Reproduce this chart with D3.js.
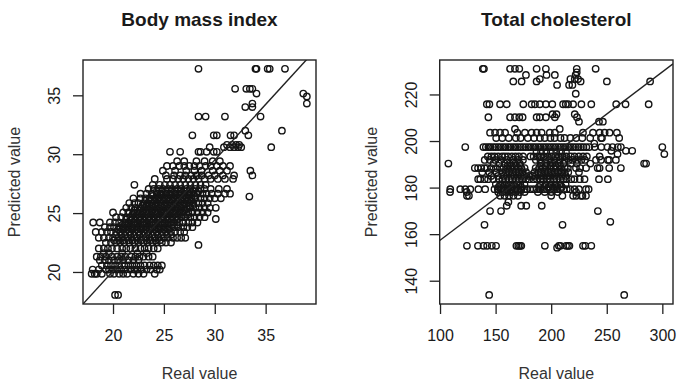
<!DOCTYPE html>
<html>
<head>
<meta charset="utf-8">
<title>Predicted vs real value</title>
<script src="https://d3js.org/d3.v7.min.js"></script>
<style>
  body { margin: 0; background: #fff; }
  svg text { font-family: "Liberation Sans", Arial, Helvetica, sans-serif; fill: #1a1a1a; }
  .box { fill: none; stroke: #222; stroke-width: 1.4px; }
  .pt { fill: none; stroke: #151515; stroke-width: 1.4px; }
  .fit { stroke: #222; stroke-width: 1.4px; }
  .tick line { stroke: #222; stroke-width: 1.3px; }
</style>
</head>
<body>
<svg id="chart" width="686" height="388"></svg>
<script>
// ---- data: [predicted value, [real values at that prediction]] ----
var bmiRows = [
  [18.05, [20.2, 20.5]],
  [19.85, [17.9, 18.2, 18.4, 18.9, 19.7, 20.1, 20.6, 21.0, 21.4, 22.0, 22.5, 23.0, 24.1]],
  [20.2, [18.0, 18.6, 19.3, 19.6, 20.0, 20.4, 20.8, 21.2, 21.7, 22.1, 22.4, 22.8, 23.3, 23.7, 24.3, 24.6]],
  [20.55, [18.9, 19.4, 19.8, 20.2, 20.6, 21.1, 21.5, 21.9, 22.3, 22.7, 23.1, 23.6, 24.0, 24.4, 24.8]],
  [21.0, [18.7, 19.2, 19.6, 20.1, 20.5, 21.0, 21.5, 22.0, 22.5]],
  [21.3, [18.4, 18.8, 19.3, 19.9, 20.4, 20.8, 21.2, 21.8, 22.2, 22.6, 23.0, 23.5, 23.9]],
  [21.6, [19.1, 19.6, 20.9, 22.4, 23.3]],
  [22.0, [18.6, 19.1, 19.5, 19.9, 20.4, 20.9, 21.3, 21.7, 22.2, 22.7, 23.1, 23.5, 24.0, 24.4]],
  [22.3, [28.4]],
  [22.5, [19.3, 19.8, 20.3, 20.7, 21.1, 21.6, 22.1, 22.5, 23.0, 23.4, 23.9, 24.3, 24.8, 25.2, 25.7]],
  [22.7, [20.1, 20.6, 21.0, 21.5, 21.9, 22.4, 22.8, 23.3, 23.7, 24.2, 24.6]],
  [22.9, [18.6, 19.1, 19.6, 20.0, 20.5, 20.9, 21.4, 21.8, 22.3, 22.7, 23.2, 23.6, 24.1, 24.5, 25.0, 25.4, 25.9, 26.3, 26.7, 27.1]],
  [23.15, [20.3, 20.8, 21.2, 21.7, 22.1, 22.6, 23.0, 23.5, 23.9, 24.4, 24.8, 25.3, 25.7]],
  [23.4, [18.3, 18.9, 19.4, 19.8, 20.3, 20.7, 21.2, 21.6, 22.1, 22.5, 23.0, 23.4, 23.9, 24.3, 24.8, 25.2, 25.7, 26.1, 26.6, 27.0]],
  [23.6, [20.5, 20.9, 21.4, 21.8, 22.3, 22.7, 23.2, 23.6, 24.1, 24.5, 25.0, 25.4]],
  [23.8, [19.2, 19.7, 20.1, 20.6, 21.0, 21.5, 21.9, 22.4, 22.8, 23.3, 23.7, 24.2, 24.6, 25.1, 25.5, 26.0, 26.4, 26.9, 27.3, 27.8]],
  [24.0, [20.9, 21.3, 21.8, 22.2, 22.7, 23.1, 23.6, 24.0, 24.5, 24.9, 25.4, 25.8, 26.3]],
  [24.2, [18.05, 18.7, 19.7, 20.2, 20.6, 21.1, 21.5, 22.0, 22.4, 22.9, 23.3, 23.8, 24.2, 24.7, 25.1, 25.6, 26.0, 26.5, 26.9, 27.4, 27.8, 28.3]],
  [24.45, [21.3, 21.8, 22.2, 22.7, 23.1, 23.6, 24.0, 24.5, 24.9, 25.4, 25.8, 26.3]],
  [24.5, [30.1]],
  [24.65, [20.3, 20.8, 21.3, 21.7, 22.2, 22.6, 23.1, 23.5, 24.0, 24.4, 24.9, 25.3, 25.8, 26.2, 26.7, 27.1, 27.6, 28.0, 28.5, 29.0]],
  [24.85, [21.9, 22.4, 22.8, 23.3, 23.7, 24.2, 24.6, 25.1, 25.5, 26.0, 26.4, 26.9, 27.3]],
  [25.05, [20.0, 21.0, 21.5, 22.0, 22.4, 22.9, 23.3, 23.8, 24.2, 24.7, 25.1, 25.6, 26.0, 26.5, 26.9, 27.4, 27.8, 28.3, 28.8, 29.3]],
  [25.25, [22.1, 22.6, 23.0, 23.5, 23.9, 24.4, 24.8, 25.3, 25.7, 26.2, 26.6, 27.1]],
  [25.45, [21.3, 21.8, 22.2, 22.7, 23.1, 23.6, 24.0, 24.5, 24.9, 25.4, 25.8, 26.3, 26.7, 27.2, 27.6, 28.1, 28.5, 29.0, 29.5, 30.1]],
  [25.65, [22.9, 23.3, 23.8, 24.2, 24.7, 25.1, 25.6, 26.0, 26.5, 26.9, 27.4, 27.8]],
  [25.85, [21.6, 22.1, 22.5, 23.0, 23.4, 23.9, 24.3, 24.8, 25.2, 25.7, 26.1, 26.6, 27.0, 27.5, 27.9, 28.4, 28.8, 29.3]],
  [26.05, [23.2, 23.7, 24.1, 24.6, 25.0, 25.5, 25.9, 26.4, 26.8, 27.3, 27.7]],
  [26.25, [22.0, 22.7, 23.2, 23.6, 24.1, 24.5, 25.0, 25.4, 25.9, 26.3, 26.8, 27.2, 27.7, 28.1, 28.6, 29.0, 29.5, 30.0, 30.6]],
  [26.4, [33.4]],
  [26.45, [23.9, 24.4, 24.8, 25.3, 25.7, 26.2, 26.6, 27.1, 27.5, 28.0]],
  [26.65, [22.7, 23.3, 23.8, 24.3, 24.7, 25.2, 25.6, 26.1, 26.5, 27.0, 27.4, 27.9, 28.3, 28.8, 29.2, 29.7, 30.3, 31.0, 31.5]],
  [26.85, [24.3, 24.8, 25.2, 25.7, 26.1, 26.6, 27.0, 27.5, 27.9, 28.4]],
  [27.05, [23.5, 24.0, 24.5, 24.9, 25.4, 25.8, 26.3, 26.7, 27.2, 27.6, 28.1, 28.6, 29.0, 29.6, 30.4, 31.2]],
  [27.4, [22.1, 23.9, 24.6, 25.1, 25.6, 26.1, 26.6, 27.1, 27.6, 28.1, 28.6, 29.1]],
  [27.9, [24.1, 25.3, 25.9, 26.4, 26.9, 27.4, 27.9, 28.4, 29.0, 29.6, 30.3, 31.0, 31.8]],
  [28.2, [25.2, 26.0, 26.6, 27.1, 27.7, 28.2, 28.7, 29.4, 30.0, 30.8, 31.9, 33.7]],
  [28.6, [24.9, 26.1, 27.2, 28.0, 28.7, 29.8, 30.5, 31.2, 33.5]],
  [29.0, [25.3, 25.9, 26.5, 27.0, 27.5, 28.0, 28.5, 29.1, 29.6, 30.2, 30.8, 31.5]],
  [29.4, [26.3, 27.0, 28.2, 29.0, 29.8, 30.5]],
  [30.2, [25.6, 26.6, 28.4, 28.6, 29.2, 29.9, 30.2]],
  [30.6, [29.5, 30.9, 31.5, 31.9, 32.3, 32.6, 35.55]],
  [30.8, [31.2, 31.7, 32.1, 32.4]],
  [31.6, [27.8, 29.9, 30.2, 31.55, 31.9, 33.3]],
  [32.0, [33.0, 36.6]],
  [33.2, [28.4, 29.1, 31.0, 34.5]],
  [34.0, [33.0, 33.7]],
  [34.3, [33.7, 39.05]],
  [34.9, [39.05]],
  [35.15, [34.1, 38.7]],
  [35.55, [32.0, 33.1, 33.45, 33.7]],
  [37.25, [28.4, 34.0, 34.1, 35.2, 35.4, 36.9]]
];

var cholRows = [
  [231.0, [138.5, 139.5, 163.0, 167.4, 171.3, 186.9, 195.2, 223.0, 240.0]],
  [229.5, [223.0]],
  [228.4, [177.3, 195.8, 203.3, 222.0]],
  [226.6, [189.8, 217.3, 221.2, 224.2]],
  [225.6, [165.9, 173.4, 186.9, 226.5, 250.1, 289.0]],
  [224.1, [205.3, 216.1, 219.1]],
  [220.3, [222.1]],
  [215.8, [142.1, 144.4, 154.0, 160.0, 174.9, 182.4, 185.4, 189.8, 195.2, 201.0, 210.7, 213.1, 215.2, 219.7, 227.2, 236.1, 258.5, 266.9, 287.7]],
  [211.5, [201.2, 204.8, 221.2]],
  [210.2, [143.5, 163.0, 167.4, 171.3, 174.3, 186.9, 189.8, 195.2, 203.3, 223.2]],
  [208.3, [225.0, 243.0, 246.5]],
  [205.2, [167.4, 207.7]],
  [203.6, [145.0, 149.5, 154.0, 158.5, 169.5, 176.4, 182.4, 186.9, 191.4, 198.8, 203.3, 228.6, 237.6, 243.6, 248.1, 252.5, 259.1]],
  [201.3, [150.5, 156.0, 161.8, 168.2, 172.5, 179.0, 184.6, 189.9, 194.2, 199.3, 203.1, 208.4, 212.0, 217.3, 222.5, 228.0, 235.1, 244.8, 245.7, 261.2]],
  [198.9, [238.8]],
  [197.4, [122.7, 139.0, 141.2, 143.5, 145.3, 147.8, 150.1, 152.4, 154.6, 156.9, 159.0, 161.4, 163.5, 165.9, 168.0, 170.2, 172.6, 174.8, 177.1, 179.5, 181.6, 183.9, 186.0, 188.4, 190.5, 192.9, 195.1, 197.3, 199.6, 201.8, 204.0, 206.3, 208.5, 210.9, 213.0, 215.4, 217.6, 219.8, 222.1, 224.5, 226.8, 229.0, 231.6, 234.3, 239.1, 245.1, 250.7, 255.2, 260.0, 262.7, 300.0]],
  [195.8, [254.1, 267.2, 272.9]],
  [195.3, [186.8, 190.9, 195.6, 199.8, 204.5, 208.9, 213.3]],
  [194.4, [259.7, 301.8]],
  [193.4, [143.0, 146.2, 149.1, 152.3, 155.8, 158.4, 161.2, 164.6, 167.9, 171.0, 174.7, 181.3, 184.2, 187.8, 190.6, 193.4, 196.9, 200.2, 203.7, 206.8, 210.1, 213.6, 217.8, 221.0, 224.9, 228.7, 232.1, 243.6]],
  [191.9, [140.2, 144.8, 149.7, 154.9, 160.3, 165.8, 170.1, 174.6, 186.2, 190.3, 194.8, 199.0, 203.2, 207.7, 211.9, 216.0, 219.4, 223.3, 227.1, 230.4, 240.3, 244.8, 251.0, 252.2, 258.2]],
  [190.3, [107.5, 148.0, 153.2, 158.1, 162.9, 167.6, 171.8, 190.4, 196.0, 201.3, 206.2, 211.0, 217.5, 223.1, 235.2, 283.6, 285.4]],
  [189.4, [160.8, 164.5, 168.4, 172.1, 190.9, 195.0, 199.4, 203.8, 208.0]],
  [188.4, [131.3, 134.2, 137.1, 140.0, 142.3, 146.1, 150.2, 153.8, 157.0, 160.4, 163.7, 166.9, 170.3, 173.2, 176.1, 186.0, 189.2, 192.4, 195.1, 198.9, 202.0, 205.3, 208.8, 212.1, 215.0, 222.3, 226.0, 231.4, 241.8, 243.6, 252.2, 262.7]],
  [186.6, [138.0, 144.3, 150.8, 155.9, 159.1, 162.2, 165.4, 168.3, 171.1, 174.2, 177.4, 185.1, 188.3, 191.0, 194.2, 197.3, 200.1, 203.4, 206.2, 209.1, 212.3, 215.4, 225.0]],
  [185.0, [146.0, 152.1, 157.2, 160.1, 163.9, 166.8, 170.0, 173.1, 176.2, 180.0, 183.2, 186.1, 190.2, 193.1, 196.4, 199.2, 202.8, 206.1, 209.8, 213.0]],
  [183.6, [134.3, 136.2, 140.1, 143.2, 148.0, 152.9, 156.1, 159.0, 162.2, 165.1, 168.3, 171.2, 174.0, 177.3, 180.2, 184.0, 187.1, 190.2, 193.0, 196.3, 199.1, 202.4, 205.0, 208.2, 211.3, 214.0, 218.1, 221.0, 225.7, 230.0, 243.0, 251.0]],
  [181.4, [150.2, 154.1, 158.3, 161.9, 165.7, 169.0, 172.2, 176.0, 190.1, 194.9, 199.2, 204.1, 208.3, 213.0]],
  [180.3, [152.8, 156.9, 160.7, 164.4, 168.6, 172.9, 189.0, 193.7, 197.8, 201.6, 205.5, 209.6]],
  [179.3, [109.2, 118.2, 122.7, 127.2, 134.5, 140.6, 149.0, 152.0, 155.1, 158.2, 161.0, 164.1, 167.2, 170.0, 173.1, 176.2, 178.0, 181.1, 184.2, 187.0, 190.1, 193.2, 196.0, 199.1, 202.2, 205.0, 208.1, 211.2, 214.0, 217.1, 221.0, 225.0, 231.3, 233.7]],
  [178.1, [109.0, 124.0, 152.3, 156.2, 160.1, 164.0, 168.1, 172.0, 176.1, 188.0, 194.2, 200.1, 206.0, 222.4]],
  [176.5, [124.2, 126.0, 154.1, 158.0, 162.1, 166.0, 170.1, 200.0, 210.1, 219.7, 222.7, 226.9, 228.1, 231.3]],
  [173.8, [161.5]],
  [172.2, [160.0, 173.0, 177.6, 191.5]],
  [169.9, [145.0, 154.9, 242.0]],
  [165.3, [253.2]],
  [164.0, [140.0, 210.2]],
  [155.0, [124.2, 134.1, 139.1, 142.4, 146.6, 150.4, 168.7, 170.4, 171.9, 173.1, 194.3, 206.9, 208.3, 213.4, 215.1, 216.4, 228.6, 230.7, 236.1]],
  [154.2, [205.3]],
  [133.9, [144.2, 265.7]]
];

// axis ranges, ticks and fitted lines [intercept, slope]
var bmiXDomain = [17.05, 39.95], bmiYDomain = [17.28, 38.0];
var cholXDomain = [99.7, 309.6], cholYDomain = [130.0, 234.8];
var bmiXTicks = [20, 25, 30, 35], bmiYTicks = [20, 25, 30, 35];
var cholXTicks = [100, 150, 200, 250, 300], cholYTicks = [140, 160, 180, 200, 220];
var bmiFit = [1.19, 0.944];
var cholFit = [121.2, 0.3617];

var panels = [
  {id: "bmi", title: "Body mass index", rows: bmiRows, xd: bmiXDomain, yd: bmiYDomain,
   xt: bmiXTicks, yt: bmiYTicks, fit: bmiFit, left: 83, right: 316},
  {id: "chol", title: "Total cholesterol", rows: cholRows, xd: cholXDomain, yd: cholYDomain,
   xt: cholXTicks, yt: cholYTicks, fit: cholFit, left: 439.7, right: 673}
];

var plotTop = 60, plotBottom = 304;
var svg = d3.select("#chart");
svg.append("rect").attr("width", 686).attr("height", 388).attr("fill", "#fff");

panels.forEach(function(p) {
  var x = d3.scaleLinear().domain(p.xd).range([p.left, p.right]);
  var y = d3.scaleLinear().domain(p.yd).range([plotBottom, plotTop]);
  var cx = (p.left + p.right) / 2, cy = (plotTop + plotBottom) / 2;

  // flatten rows into points
  var pts = [];
  p.rows.forEach(function(r) {
    r[1].forEach(function(v) { pts.push({real: v, pred: r[0]}); });
  });

  svg.append("clipPath").attr("id", "clip-" + p.id)
    .append("rect")
    .attr("x", p.left).attr("y", plotTop)
    .attr("width", p.right - p.left).attr("height", plotBottom - plotTop);

  var g = svg.append("g").attr("clip-path", "url(#clip-" + p.id + ")");

  g.selectAll("circle")
    .data(pts)
    .enter().append("circle")
    .attr("class", "pt")
    .attr("cx", function(d) { return x(d.real); })
    .attr("cy", function(d) { return y(d.pred); })
    .attr("r", 3.2);

  g.append("line")
    .attr("class", "fit")
    .attr("x1", x(p.xd[0])).attr("y1", y(p.fit[0] + p.fit[1] * p.xd[0]))
    .attr("x2", x(p.xd[1])).attr("y2", y(p.fit[0] + p.fit[1] * p.xd[1]));

  // box
  svg.append("rect").attr("class", "box")
    .attr("x", p.left).attr("y", plotTop)
    .attr("width", p.right - p.left).attr("height", plotBottom - plotTop);

  // x axis
  var xa = svg.append("g")
    .attr("transform", "translate(0," + plotBottom + ")")
    .call(d3.axisBottom(x).tickValues(p.xt).tickSize(10).tickFormat(d3.format("d")));
  xa.select(".domain").remove();
  xa.selectAll("text")
    .attr("y", 36.5).attr("dy", null)
    .style("font-size", "16px");

  // y axis
  var ya = svg.append("g")
    .attr("transform", "translate(" + p.left + ",0)")
    .call(d3.axisLeft(y).tickValues(p.yt).tickSize(10).tickFormat(d3.format("d")));
  ya.select(".domain").remove();
  ya.selectAll("text")
    .attr("x", null).attr("y", null).attr("dy", null)
    .attr("text-anchor", "middle")
    .attr("transform", "translate(-23,0) rotate(-90)")
    .style("font-size", "16px");

  // title and axis labels
  svg.append("text")
    .attr("x", cx).attr("y", 26)
    .attr("text-anchor", "middle")
    .style("font-size", "19px").style("font-weight", "bold")
    .text(p.title);

  svg.append("text")
    .attr("x", cx).attr("y", 379)
    .attr("text-anchor", "middle")
    .style("font-size", "16px")
    .style("fill", "#333")
    .text("Real value");

  svg.append("text")
    .attr("transform", "translate(" + (p.left - 63) + "," + cy + ") rotate(-90)")
    .attr("text-anchor", "middle")
    .style("font-size", "16px")
    .style("fill", "#333")
    .text("Predicted value");
});
</script>
</body>
</html>
